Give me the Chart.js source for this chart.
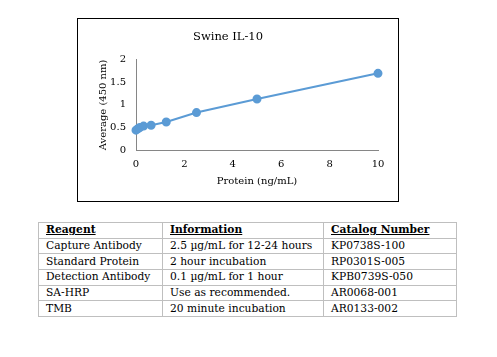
<!DOCTYPE html>
<html>
<head>
<meta charset="utf-8">
<script src="https://cdn.jsdelivr.net/npm/chart.js@4"></script>
<style>
  html, body { margin:0; padding:0; background:#fff; width:497px; height:357px; overflow:hidden; }
  #box { position:absolute; left:77px; top:18px; width:320px; height:182px; border:1px solid #000; }
  #box canvas { display:block; }
  table { position:absolute; left:38px; top:222px; border-collapse:collapse; font-family:"DejaVu Serif", serif; font-size:10.7px; color:#000; table-layout:fixed; }
  td { border:1px solid #bfbfbf; padding:0 0 0 7px; height:14.7px; line-height:14px; white-space:nowrap; overflow:hidden; }
  tr.h td { font-weight:bold; text-decoration:underline; }
</style>
</head>
<body>
<div id="box"><canvas id="c" width="320" height="182"></canvas></div>
<table>
  <colgroup><col style="width:124px"><col style="width:161px"><col style="width:133px"></colgroup>
  <tbody id="tb"></tbody>
</table>
<script>
const concentrations = [0, 0.078, 0.156, 0.3125, 0.625, 1.25, 2.5, 5, 10];
const averages = [0.44, 0.47, 0.50, 0.53, 0.55, 0.62, 0.83, 1.13, 1.70];
const xTicks = [0, 2, 4, 6, 8, 10];
const yTicks = [0, 0.5, 1, 1.5, 2];
const chartTitle = "Swine IL-10";
const xTitle = "Protein (ng/mL)";
const yTitle = "Average (450 nm)";

const tableHeader = ["Reagent", "Information", "Catalog Number"];
const reagents = ["Capture Antibody", "Standard Protein", "Detection Antibody", "SA-HRP", "TMB"];
const information = ["2.5 \u00b5g/mL for 12-24 hours", "2 hour incubation", "0.1 \u00b5g/mL for 1 hour", "Use as recommended.", "20 minute incubation"];
const catalogNumbers = ["KP0738S-100", "RP0301S-005", "KPB0739S-050", "AR0068-001", "AR0133-002"];

const tb = document.getElementById('tb');
function addRow(cells, cls) {
  const tr = document.createElement('tr');
  if (cls) tr.className = cls;
  cells.forEach(t => { const td = document.createElement('td'); td.textContent = t; tr.appendChild(td); });
  tb.appendChild(tr);
}
addRow(tableHeader, 'h');
reagents.forEach((r, i) => addRow([r, information[i], catalogNumbers[i]]));

const serif = "'DejaVu Serif', serif";
new Chart(document.getElementById('c'), {
  type: 'scatter',
  data: {
    datasets: [{
      data: concentrations.map((x, i) => ({ x: x, y: averages[i] })),
      showLine: true,
      clip: false,
      borderColor: '#5B9BD5',
      backgroundColor: '#5B9BD5',
      borderWidth: 2,
      pointRadius: 3.5,
      pointHoverRadius: 3.5,
      tension: 0
    }]
  },
  options: {
    responsive: false,
    animation: false,
    layout: { padding: { left: 0, right: 20, top: 11, bottom: 0 } },
    plugins: {
      legend: { display: false },
      tooltip: { enabled: false },
      title: { display: true, text: chartTitle, color: '#000', font: { family: serif, size: 11.5, weight: 'normal' }, padding: { top: 0, bottom: 16 } }
    },
    scales: {
      x: {
        type: 'linear', min: 0, max: 10,
        afterBuildTicks: s => { s.ticks = xTicks.map(v => ({ value: v })); },
        afterFit: s => { s.height = 51; },
        ticks: { color: '#000', font: { family: serif, size: 10 }, padding: 8 },
        grid: { display: false, drawTicks: false },
        border: { display: true, color: '#868686', width: 1 },
        title: { display: true, text: xTitle, color: '#000', font: { family: serif, size: 10 }, padding: { top: 0, bottom: 14 } }
      },
      y: {
        type: 'linear', min: 0, max: 2,
        afterBuildTicks: s => { s.ticks = yTicks.map(v => ({ value: v })); },
        afterFit: s => { s.width = 58; },
        ticks: { color: '#000', font: { family: serif, size: 10 }, padding: 10, callback: v => String(v) },
        grid: { display: false, drawTicks: false },
        border: { display: true, color: '#868686', width: 1 },
        title: { display: true, text: yTitle, color: '#000', font: { family: serif, size: 10 }, padding: { top: 19, bottom: 0 } }
      }
    }
  }
});
</script>
</body>
</html>
